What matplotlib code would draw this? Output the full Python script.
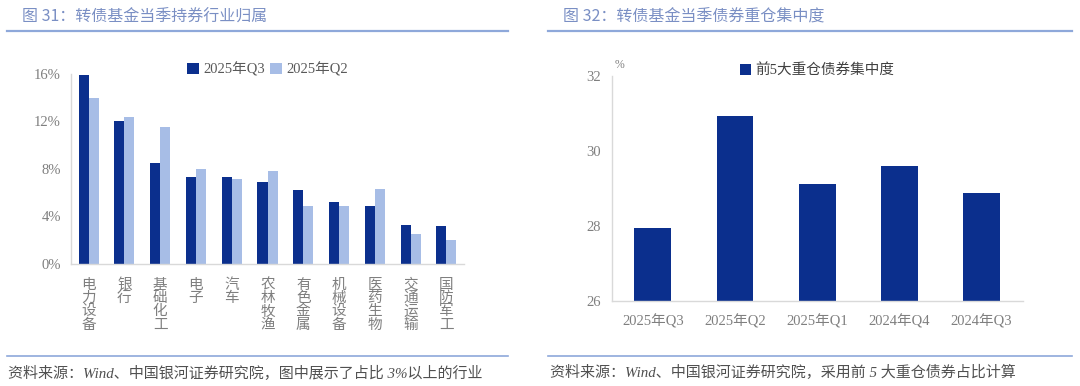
import matplotlib
matplotlib.use("Agg")
import matplotlib.pyplot as plt
from matplotlib.lines import Line2D
import numpy as np

# ---- data ----
industries = ["电力设备", "银行", "基础化工", "电子", "汽车", "农林牧渔", "有色金属",
              "机械设备", "医药生物", "交通运输", "国防军工"]
q3_share = [15.95, 12.0, 8.5, 7.3, 7.28, 6.9, 6.2, 5.2, 4.88, 3.3, 3.15]
q2_share = [14.0, 12.4, 11.5, 7.98, 7.15, 7.78, 4.88, 4.86, 6.3, 2.5, 1.97]
series_names = ["2025年Q3", "2025年Q2"]
pct_ticks = [0, 4, 8, 12, 16]

quarters = ["2025年Q3", "2025年Q2", "2025年Q1", "2024年Q4", "2024年Q3"]
top5_conc = [27.93, 30.92, 29.12, 29.59, 28.87]
conc_ticks = [26, 28, 30, 32]
conc_name = "前5大重仓债券集中度"

title_left = "图 31：转债基金当季持券行业归属"
title_right = "图 32：转债基金当季债券重仓集中度"
src_left = "资料来源：Wind、中国银河证券研究院，图中展示了占比 3%以上的行业"
src_right = "资料来源：Wind、中国银河证券研究院，采用前 5 大重仓债券占比计算"

# ---- style ----
DARK = "#0b2f8d"
LIGHT = "#a7bde6"
TITLE_C = "#7a8fc4"
RULE_C = "#8ea8da"
TICK_C = "#7f7f7f"
SPINE_C = "#d9d9d9"
FONTS = ["Liberation Serif", "Noto Sans CJK SC", "DejaVu Sans"]
CJK = ["Noto Sans CJK SC", "DejaVu Sans"]
plt.rcParams["font.family"] = FONTS

fig = plt.figure(figsize=(10.8, 3.86), dpi=100)
W, H = 1080, 386

def fx(px):
    return px / W

def fy(py):
    return 1 - py / H

# titles and rules
fig.text(fx(22), fy(17), title_left, family=CJK, fontsize=11.5, color=TITLE_C, va="center", ha="left")
fig.text(fx(563), fy(17), title_right, family=CJK, fontsize=11.5, color=TITLE_C, va="center", ha="left")
for x0, x1 in [(7, 508), (548, 1072)]:
    fig.add_artist(Line2D([fx(x0), fx(x1)], [fy(30.5), fy(30.5)], color=RULE_C, lw=1.6))
    fig.add_artist(Line2D([fx(x0), fx(x1)], [fy(355.5), fy(355.5)], color=RULE_C, lw=1.2))
fig.text(fx(8), fy(373), src_left, family=FONTS, fontsize=10.8, color="#505050",
         va="center", ha="left", style="italic")
fig.text(fx(550), fy(372), src_right, family=FONTS, fontsize=10.8, color="#505050",
         va="center", ha="left", style="italic")

# ---- left chart ----
ax1 = fig.add_axes([fx(70.7), fy(263.7), fx(464.3 - 70.7), (263.7 - 74) / H])
x = np.arange(len(industries))
bw = 0.28
ax1.bar(x - bw / 2, q3_share, width=bw, color=DARK, label=series_names[0])
ax1.bar(x + bw / 2, q2_share, width=bw, color=LIGHT, label=series_names[1])
ax1.set_xlim(-0.5, len(industries) - 0.5)
ax1.set_ylim(0, 16)
ax1.set_yticks(pct_ticks)
ax1.set_yticklabels([f"{t}%" for t in pct_ticks], fontsize=10.5, color=TICK_C)
ax1.set_xticks(x)
ax1.set_xticklabels(["\n".join(s) for s in industries], family=CJK, fontsize=10.5,
                    color=TICK_C, linespacing=0.95, va="top")
ax1.tick_params(length=0, pad=7)
ax1.tick_params(axis="x", pad=10)
for s in ["top", "right"]:
    ax1.spines[s].set_visible(False)
for s in ["left", "bottom"]:
    ax1.spines[s].set_color(SPINE_C)
    ax1.spines[s].set_linewidth(1.0)
leg1 = ax1.legend(loc="upper center", bbox_to_anchor=(0.5, 1.13), ncol=2, frameon=False,
                  handlelength=0.8, handleheight=0.8, handletextpad=0.3, columnspacing=0.4,
                  prop={"family": FONTS, "size": 10.5})
for t in leg1.get_texts():
    t.set_color("#595959")

# ---- right chart ----
ax2 = fig.add_axes([fx(611.7), fy(300.7), fx(1022.7 - 611.7), (300.7 - 76) / H])
x2 = np.arange(len(quarters))
ax2.bar(x2, [v - conc_ticks[0] for v in top5_conc], bottom=conc_ticks[0], width=0.45,
        color=DARK, label=conc_name)
ax2.set_xlim(-0.5, len(quarters) - 0.5)
ax2.set_ylim(conc_ticks[0], conc_ticks[-1])
ax2.set_yticks(conc_ticks)
ax2.set_yticklabels([str(t) for t in conc_ticks], fontsize=10.5, color=TICK_C)
ax2.set_xticks(x2)
ax2.set_xticklabels(quarters, family=FONTS, fontsize=10.5, color=TICK_C)
ax2.tick_params(length=0, pad=8)
ax2.tick_params(axis="x", pad=10)
for s in ["top", "right"]:
    ax2.spines[s].set_visible(False)
for s in ["left", "bottom"]:
    ax2.spines[s].set_color(SPINE_C)
    ax2.spines[s].set_linewidth(1.0)
ax2.text(fx(615), fy(65), "%", transform=fig.transFigure, fontsize=8.5, color=TICK_C,
         va="center", ha="left")
leg2 = ax2.legend(loc="upper center", bbox_to_anchor=(0.5, 1.115), ncol=1, frameon=False,
                  handlelength=0.8, handleheight=0.8, handletextpad=0.3,
                  prop={"family": FONTS, "size": 10.5})
for t in leg2.get_texts():
    t.set_color("#404040")

fig.savefig("out.png", dpi=100, facecolor="white")
